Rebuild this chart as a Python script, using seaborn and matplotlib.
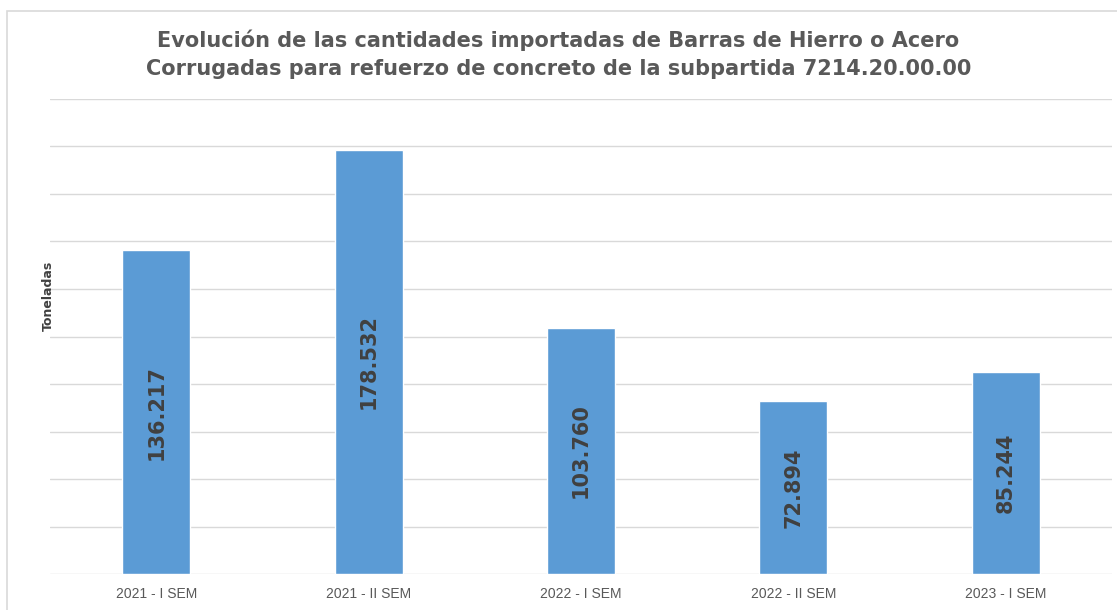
import matplotlib
matplotlib.use("Agg")
import matplotlib.pyplot as plt
import seaborn as sns
import pandas as pd
from matplotlib.patches import Rectangle

# datos
periodos = ["2021 - I SEM", "2021 - II SEM", "2022 - I SEM", "2022 - II SEM", "2023 - I SEM"]
toneladas = [136217, 178532, 103760, 72894, 85244]

df = pd.DataFrame({"periodo": periodos, "toneladas": toneladas})

sns.set_style("white")
plt.rcParams["font.family"] = ["DejaVu Sans"]

W, H = 1117, 610
fig = plt.figure(figsize=(W / 100, H / 100), dpi=100)
ax = fig.add_axes([50 / W, (H - 574) / H, (1112 - 50) / W, (574 - 99) / H])

sns.barplot(data=df, x="periodo", y="toneladas", color="#5B9BD5", saturation=1,
            width=0.32, ax=ax, zorder=3)

ax.set_ylim(0, 200000)
ax.set_xlim(-0.5, 4.5)
ax.set_yticks(range(0, 200001, 20000))
ax.yaxis.grid(True, color="#d9d9d9", lw=1, zorder=0)
ax.tick_params(axis="y", left=False, labelleft=False)
ax.tick_params(axis="x", bottom=False, labelsize=10, labelcolor="#595959", pad=6)
for lab in ax.get_xticklabels():
    lab.set_family(["Liberation Sans", "DejaVu Sans"])
for s in ax.spines.values():
    s.set_visible(False)
ax.set_xlabel("")
ax.set_ylabel("")

# etiquetas de valor dentro de las barras
for i, v in enumerate(toneladas):
    txt = f"{v:,}".replace(",", ".")
    ax.text(i, v / 2, txt, rotation=90, ha="center", va="center",
            fontsize=15, fontweight="bold", color="#404040", zorder=4)

fig.text(0.5, 1 - 54 / H,
         "Evolución de las cantidades importadas de Barras de Hierro o Acero\n"
         "Corrugadas para refuerzo de concreto de la subpartida 7214.20.00.00",
         ha="center", va="center", fontsize=15, fontweight="bold",
         color="#595959", linespacing=1.5)

fig.text(48 / W, 1 - 296 / H, "Toneladas", rotation=90, ha="center", va="center",
         fontsize=9, fontweight="bold", color="#404040")

# borde del gráfico
fig.patches.append(Rectangle((7 / W, -0.01), 1.0, 1 - 11 / H + 0.01,
                             transform=fig.transFigure, fill=False,
                             edgecolor="#d9d9d9", lw=1.2))

fig.savefig("out.png", dpi=100)
